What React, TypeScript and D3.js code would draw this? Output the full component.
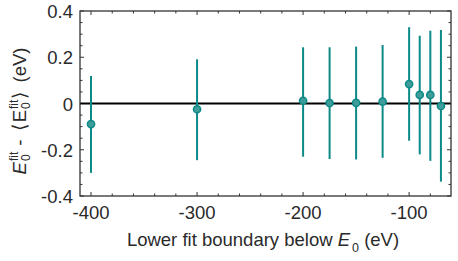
import * as d3 from "d3";

// Data
const boundaries = [-400, -300, -200, -175, -150, -125, -100, -90, -80, -70];
const offsets = [-0.089, -0.025, 0.012, 0.002, 0.003, 0.008, 0.084, 0.037, 0.037, -0.011];
const errUpper = [0.119, 0.191, 0.243, 0.243, 0.246, 0.253, 0.33, 0.293, 0.315, 0.318];
const errLower = [-0.3, -0.245, -0.23, -0.24, -0.242, -0.235, -0.161, -0.22, -0.248, -0.338];
const xTicks = [-400, -300, -200, -100];
const yTicks = [-0.4, -0.2, 0, 0.2, 0.4];

const W = 458, H = 261;
const margin = { top: 11, right: 7, bottom: 65, left: 80 };
const teal = "#0b8a88";
const textCol = "#2a2a2a";
const font = "'Liberation Sans', Arial, Helvetica, sans-serif";
const fs = 18.5;

export default function App() {
  const x = d3.scaleLinear().domain([-410.4, -60.5]).range([margin.left, W - margin.right]);
  const y = d3.scaleLinear().domain([-0.4, 0.4]).range([H - margin.bottom, margin.top]);
  const [x0, x1] = x.range();
  const [y0, y1] = y.range();

  const xMinor = d3.range(-400, -60, 20);
  const yMinor = d3.range(-0.4, 0.4001, 0.05).map((v) => +v.toFixed(2));

  const isMajorX = (v: number) => v % 100 === 0;
  const isMajorY = (v: number) => Math.abs(v * 5 - Math.round(v * 5)) < 1e-6;

  const pts = boundaries.map((b, i) => ({ b, v: offsets[i], hi: errUpper[i], lo: errLower[i] }));

  return (
    <svg width={W} height={H} style={{ position: "absolute", left: 0, top: 0, background: "#fff" }} fontFamily={font}>
      {/* ticks, inward on all sides */}
      {xMinor.map((v) => {
        const len = isMajorX(v) ? 4 : 2.5;
        return (
          <g key={"xt" + v} stroke="#333" strokeWidth={1}>
            <line x1={x(v)} x2={x(v)} y1={y0} y2={y0 - len} />
            <line x1={x(v)} x2={x(v)} y1={y1} y2={y1 + len} />
          </g>
        );
      })}
      {yMinor.map((v) => {
        const len = isMajorY(v) ? 4 : 2.5;
        return (
          <g key={"yt" + v} stroke="#333" strokeWidth={1}>
            <line x1={x0} x2={x0 + len} y1={y(v)} y2={y(v)} />
            <line x1={x1} x2={x1 - len} y1={y(v)} y2={y(v)} />
          </g>
        );
      })}

      {/* zero line */}
      <line x1={x0} x2={x1} y1={y(0)} y2={y(0)} stroke="#000" strokeWidth={2} />

      {/* error bars and points */}
      {pts.map((p) => (
        <g key={p.b}>
          <line x1={x(p.b)} x2={x(p.b)} y1={y(p.hi)} y2={y(p.lo)} stroke={teal} strokeWidth={2} />
          <circle cx={x(p.b)} cy={y(p.v)} r={3.6} fill="#409c98" stroke={teal} strokeWidth={1.5} />
        </g>
      ))}

      {/* frame */}
      <rect x={x0} y={y1} width={x1 - x0} height={y0 - y1} fill="none" stroke="#333" strokeWidth={1.3} />

      {/* tick labels */}
      {xTicks.map((v) => (
        <text key={"xl" + v} x={x(v)} y={y0 + 23} textAnchor="middle" fontSize={fs} fill={textCol}>
          {v}
        </text>
      ))}
      {yTicks.map((v) => (
        <text key={"yl" + v} x={x0 - 7} y={y(v) + 7} textAnchor="end" fontSize={fs} fill={textCol}>
          {v === 0 ? "0" : v.toFixed(1)}
        </text>
      ))}

      {/* x label */}
      <text x={263} y={y0 + 50} textAnchor="middle" fontSize={fs} fill={textCol}>
        Lower fit boundary below <tspan fontStyle="italic">E</tspan>
        <tspan fontSize={12.5} dx={2} dy={6}>0</tspan>
        <tspan dy={-6}> (eV)</tspan>
      </text>

      {/* y label */}
      <text transform={`translate(25.5, 111) rotate(-90)`} textAnchor="middle" fontSize={fs} fill={textCol}>
        <tspan fontStyle="italic">E</tspan>
        <tspan fontSize={12} dx={1} dy={-8}>fit</tspan>
        <tspan fontSize={12} dx={-9.3} dy={12}>0</tspan>
        <tspan dx={3.6} dy={-4}>{"\u00a0-\u00a0"}</tspan>
        <tspan dx={3}>⟨</tspan>
        <tspan dx={2}>E</tspan>
        <tspan fontSize={12} dx={1} dy={-8}>fit</tspan>
        <tspan fontSize={12} dx={-9.3} dy={12}>0</tspan>
        <tspan dx={3.6} dy={-4}>⟩</tspan>
        <tspan dx={4}>{"\u00a0(eV)"}</tspan>
      </text>
    </svg>
  );
}
